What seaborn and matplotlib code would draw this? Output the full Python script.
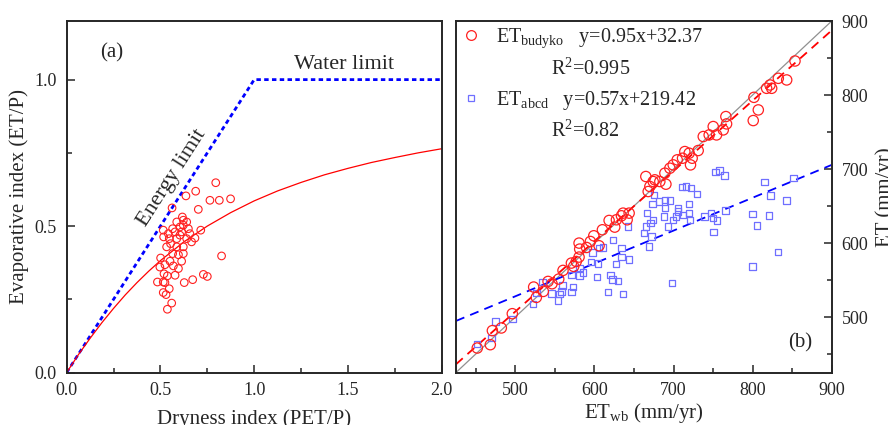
import numpy as np
import pandas as pd
import matplotlib
matplotlib.use('Agg')
import matplotlib.pyplot as plt
from matplotlib.lines import Line2D
from matplotlib.ticker import MultipleLocator
import seaborn as sns

# ---- panel (a): Budyko space ----
limit_x = [0.0, 1.0, 2.0]
limit_y = [0.0, 1.0, 1.0]

curve_x = [0, 0.0625, 0.125, 0.1875, 0.25, 0.3125, 0.375, 0.4375, 0.5, 0.625, 0.75,
           0.875, 1.0, 1.125, 1.25, 1.375, 1.5, 1.625, 1.75, 1.875, 2.0]
curve_y = [0, 0.061, 0.117, 0.170, 0.219, 0.265, 0.307, 0.346, 0.382, 0.446, 0.500,
           0.546, 0.586, 0.620, 0.649, 0.675, 0.697, 0.717, 0.734, 0.750, 0.764]

dry_idx = [0.795, 0.688, 0.636, 0.764, 0.814, 0.874, 0.562, 0.702, 0.617, 0.622,
           0.587, 0.640, 0.604, 0.565, 0.715, 0.515, 0.517, 0.604, 0.587, 0.684,
           0.640, 0.547, 0.554, 0.666, 0.622, 0.587, 0.533, 0.565, 0.622, 0.596,
           0.501, 0.826, 0.551, 0.613, 0.524, 0.569, 0.596, 0.519, 0.578, 0.537,
           0.484, 0.524, 0.627, 0.672, 0.729, 0.750, 0.547, 0.515, 0.530, 0.560,
           0.537, 0.515, 0.657, 0.613, 0.578, 0.542, 0.622, 0.649, 0.497]
evap_idx = [0.648, 0.619, 0.603, 0.588, 0.588, 0.593, 0.562, 0.557, 0.531, 0.520,
            0.514, 0.514, 0.497, 0.491, 0.486, 0.486, 0.463, 0.469, 0.457, 0.459,
            0.457, 0.457, 0.440, 0.446, 0.429, 0.429, 0.429, 0.406, 0.406, 0.402,
            0.391, 0.398, 0.380, 0.380, 0.368, 0.364, 0.355, 0.337, 0.332, 0.330,
            0.309, 0.307, 0.307, 0.317, 0.335, 0.328, 0.286, 0.273, 0.266, 0.237,
            0.216, 0.309, 0.474, 0.480, 0.480, 0.474, 0.503, 0.491, 0.360]

# ---- panel (b): ET comparison ----
wb_budyko = [451.9, 468.4, 471.0, 482.3, 496.2, 523.2, 526.6, 535.4, 541.4, 546.4,
             554.9, 560.3, 570.9, 573.8, 580.6, 581.4, 580.6, 594.9, 599.2, 605.9,
             610.1, 618.6, 625.7, 627.8, 634.2, 636.3, 641.4, 643.9, 665.0, 668.0,
             670.1, 674.3, 676.4, 682.7, 689.1, 690.4, 695.4, 699.6, 704.7, 711.4,
             714.3, 719.8, 721.5, 723.6, 731.2, 737.6, 745.1, 750.2, 754.4, 762.9,
             766.2, 767.1, 800.8, 801.7, 807.2, 817.7, 824.1, 822.0, 832.5, 843.1,
             853.6, 577.0, 590.0]
et_budyko = [458.1, 462.6, 481.6, 485.2, 504.5, 540.5, 526.5, 534.6, 548.1, 545.0,
             551.3, 563.0, 572.9, 568.4, 599.9, 591.8, 581.0, 602.1, 609.8, 596.3,
             617.9, 630.5, 621.5, 631.4, 636.8, 640.4, 631.4, 640.4, 689.9, 669.6,
             676.4, 683.1, 685.4, 683.1, 694.4, 679.5, 701.1, 705.6, 712.4, 714.6,
             723.6, 721.4, 705.6, 714.6, 725.0, 743.9, 746.1, 757.4, 746.1, 752.9,
             770.9, 761.0, 765.5, 796.9, 779.9, 809.1, 809.1, 813.6, 822.6, 820.4,
             846.0, 575.0, 594.0]

wb_abcd = [451.5, 469.6, 475.1, 496.2, 522.4, 526.6, 534.2, 545.6, 554.0, 556.1,
           559.5, 558.2, 570.9, 573.0, 570.9, 581.4, 581.4, 585.7, 595.4, 597.5,
           603.4, 604.6, 605.9, 611.0, 617.3, 620.3, 622.8, 623.6, 627.0, 630.0,
           634.2, 634.2, 636.3, 642.6, 643.9, 662.4, 665.0, 666.7, 669.2, 670.9,
           672.1, 673.4, 674.3, 675.5, 681.9, 687.8, 689.1, 689.1, 695.4, 693.3,
           698.3, 699.2, 703.4, 705.5, 705.5, 711.0, 711.8, 716.0, 719.4, 719.4,
           721.1, 722.4, 729.5, 739.2, 747.7, 749.8, 750.6, 753.2, 754.8, 758.2,
           764.6, 765.8, 799.6, 799.6, 805.5, 815.2, 820.7, 822.4, 832.1, 842.6,
           851.9]
et_abcd = [463.6, 471.6, 494.2, 497.3, 517.6, 532.4, 547.2, 531.5, 522.5, 531.0,
           542.7, 534.2, 533.7, 540.5, 557.1, 555.8, 566.1, 560.3, 574.2, 587.3,
           554.0, 572.0, 593.1, 594.0, 533.7, 557.1, 550.4, 604.4, 571.6, 549.0,
           581.0, 593.1, 531.0, 622.4, 577.4, 613.4, 622.4, 640.4, 595.4, 626.9,
           608.9, 652.9, 631.4, 665.1, 656.1, 635.9, 647.1, 658.4, 657.5, 622.4,
           545.9, 631.4, 635.9, 642.6, 647.1, 675.5, 638.1, 676.4, 652.9, 640.4,
           631.4, 674.2, 666.5, 635.9, 640.4, 633.6, 614.7, 695.7, 630.5, 698.0,
           691.2, 644.0, 639.5, 568.4, 623.7, 682.2, 637.2, 664.2, 587.7, 657.5,
           687.6]

# fitted lines (slope, intercept)
fit_budyko = (0.95, 32.37)
fit_abcd_drawn = (0.444, 306.0)

sns.set_style('ticks')
plt.rcParams['font.family'] = ['Liberation Serif', 'DejaVu Serif']
plt.rcParams['mathtext.fontset'] = 'custom'
plt.rcParams['mathtext.rm'] = 'Liberation Serif'
plt.rcParams['mathtext.it'] = 'Liberation Serif:italic'
plt.rcParams['axes.linewidth'] = 1.4

fig = plt.figure(figsize=(8.88, 4.25), dpi=100)
ax1 = fig.add_axes([0.0751, 0.1235, 0.4223, 0.827])
ax2 = fig.add_axes([0.5135, 0.1235, 0.4231, 0.827])

# panel (a)
sns.lineplot(x=limit_x, y=limit_y, sort=False, estimator=None, color='#0000ff',
             lw=2.0, ax=ax1)
ax1.lines[-1].set_linestyle((0, (1.6, 1.2)))
sns.lineplot(x=curve_x, y=curve_y, sort=False, estimator=None, color='#ff0000',
             lw=0.9, ax=ax1)
sns.scatterplot(x=dry_idx, y=evap_idx, marker='o', s=30, facecolor='none',
                edgecolor='#ff2020', linewidth=0.8, ax=ax1, zorder=3)

ax1.set_xlim(0, 2.0)
ax1.set_ylim(0, 1.2)
ax1.set_xticks([0, 0.5, 1.0, 1.5, 2.0])
ax1.set_xticklabels(['0.0', '0.5', '1.0', '1.5', '2.0'])
ax1.set_yticks([0, 0.5, 1.0])
ax1.set_yticklabels(['0.0', '0.5', '1.0'])
ax1.xaxis.set_minor_locator(MultipleLocator(0.25))
ax1.yaxis.set_minor_locator(MultipleLocator(0.25))
ax1.tick_params(which='major', direction='in', length=6, width=1.1, labelsize=13, pad=7)
ax1.tick_params(which='minor', direction='in', length=3.5, width=1.1)
ax1.set_xlabel('Dryness index (PET/P)', fontsize=15, labelpad=7)
ax1.set_ylabel('Evaporative index (ET/P)', fontsize=15, labelpad=4)
ax1.text(0.18, 1.093, '(a)', fontsize=15, va='center', ha='left')
ax1.text(1.21, 1.05, 'Water limit', fontsize=16, va='center', ha='left')
ax1.text(0.56, 0.665, 'Energy limit', fontsize=16, va='center', ha='center',
         rotation=57.4)

# panel (b)
ax2.axline((500, 500), slope=1, color='#909090', lw=0.9, zorder=1)
ax2.axline((0, fit_budyko[1]), slope=fit_budyko[0], color='#ff0000', lw=1.3,
           ls=(0, (5, 3.5)), zorder=2)
ax2.axline((0, fit_abcd_drawn[1]), slope=fit_abcd_drawn[0], color='#0000ff', lw=1.3,
           ls=(0, (5, 3.5)), zorder=2)
sns.scatterplot(x=wb_abcd, y=et_abcd, marker='s', s=22, facecolor='none',
                edgecolor='#6f6fff', linewidth=0.9, ax=ax2, zorder=3)
sns.scatterplot(x=wb_budyko, y=et_budyko, marker='o', s=55, facecolor='none',
                edgecolor='#ff2020', linewidth=0.9, ax=ax2, zorder=4)

ax2.set_xlim(425, 900)
ax2.set_ylim(425, 900)
ax2.xaxis.set_major_locator(MultipleLocator(100))
ax2.xaxis.set_minor_locator(MultipleLocator(50))
ax2.yaxis.set_major_locator(MultipleLocator(100))
ax2.yaxis.set_minor_locator(MultipleLocator(50))
ax2.yaxis.tick_right()
ax2.yaxis.set_label_position('right')
ax2.tick_params(which='major', direction='in', length=6, width=1.1, labelsize=13, pad=7)
ax2.tick_params(which='minor', direction='in', length=3.5, width=1.1)
ax2.set_xlabel(r'ET$_{\rm wb}$ (mm/yr)', fontsize=15, labelpad=1.5)
ax2.set_ylabel('ET (mm/yr)', fontsize=15, labelpad=5)
ax2.text(860, 465, '(b)', fontsize=15, va='center', ha='center')

handles = [Line2D([], [], ls='none', marker='o', ms=7, mfc='none', mec='#ff2020', mew=0.9),
           Line2D([], [], ls='none'),
           Line2D([], [], ls='none', marker='s', ms=5, mfc='none', mec='#6f6fff', mew=0.9),
           Line2D([], [], ls='none')]
labels = [r'ET$_{\rm budyko}$   y=0.95x+32.37',
          '           R$^2$=0.995',
          r'ET$_{\rm abcd}$   y=0.57x+219.42',
          '           R$^2$=0.82']
ax2.legend(handles, labels, loc='upper left', frameon=False, fontsize=14.5,
           handlelength=1.0, handletextpad=0.75, borderaxespad=0.05,
           borderpad=0.2, labelspacing=0.45)

fig.savefig('out.png', dpi=100)
